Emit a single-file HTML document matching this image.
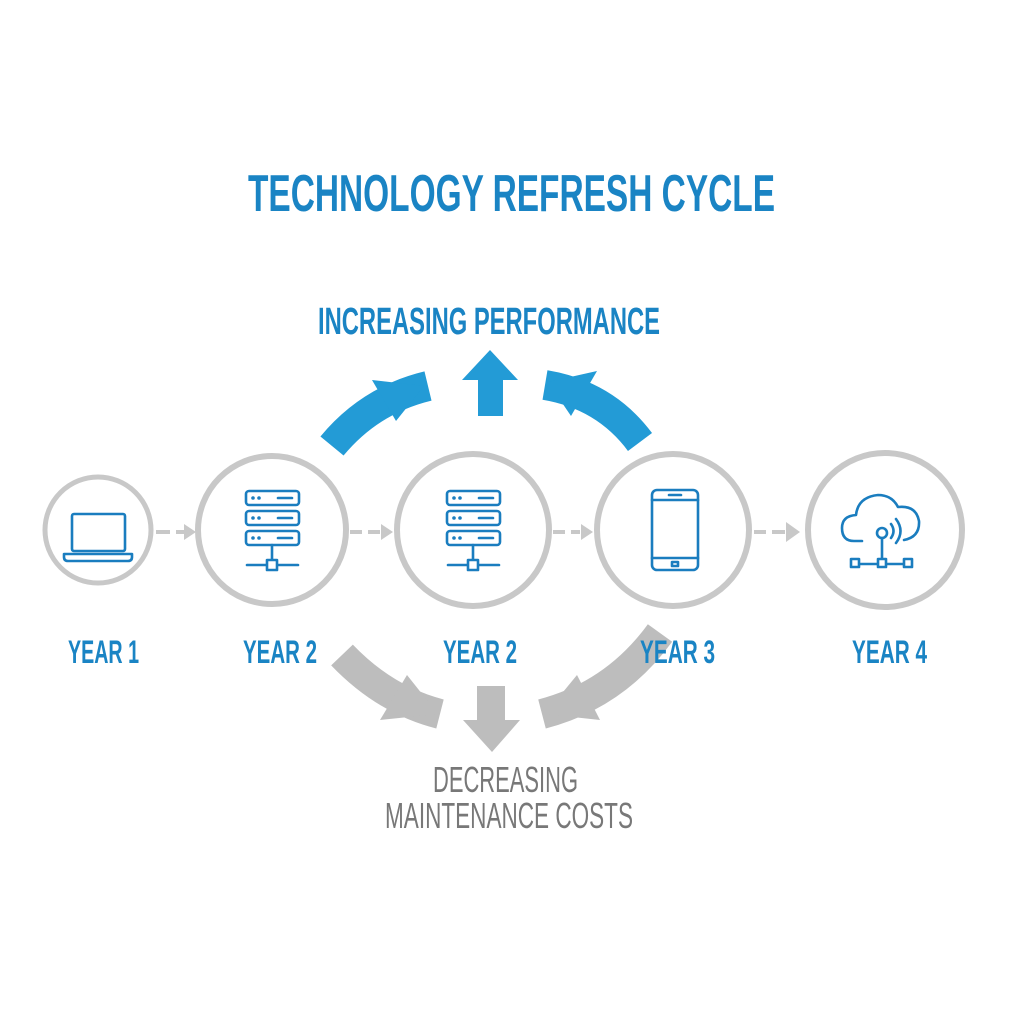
<!DOCTYPE html>
<html><head><meta charset="utf-8"><style>
html,body{margin:0;padding:0;background:#fff}
svg{display:block}
.t{font-family:"Liberation Sans Narrow","Liberation Sans",sans-serif;font-weight:bold}
</style></head><body>
<svg width="1024" height="1024" viewBox="0 0 1024 1024" xmlns="http://www.w3.org/2000/svg">
<rect width="1024" height="1024" fill="#fff"/>
<text class="t" x="248" y="211" font-size="52" fill="#1a84c4" textLength="527" lengthAdjust="spacingAndGlyphs">TECHNOLOGY REFRESH CYCLE</text>
<text class="t" x="318" y="334" font-size="38" fill="#1a84c4" textLength="342" lengthAdjust="spacingAndGlyphs">INCREASING PERFORMANCE</text>

<!-- blue arrows -->
<g fill="#239bd6" stroke="none">
<path d="M332,446 Q370,400 428,386" fill="none" stroke="#239bd6" stroke-width="30"/>
<polygon points="372,380 396,421 424,386"/>
<polygon points="478,416 503,416 503,380 518,380 490,350 462,380 478,380"/>
<path d="M640,442 Q605,395 545,385" fill="none" stroke="#239bd6" stroke-width="30"/>
<polygon points="597,371 571,416 548,382"/>
</g>

<!-- grey arrows -->
<g fill="#bdbdbd">
<path d="M342,655 Q385,700 440,714" fill="none" stroke="#bdbdbd" stroke-width="30"/>
<polygon points="407,675 380,720 438,714"/>
<polygon points="477,686 505,686 505,720 520,720 492,752 463,720 477,720"/>
<path d="M660,633 Q615,695 542,714" fill="none" stroke="#bdbdbd" stroke-width="30"/>
<polygon points="577,675 600,720 545,714"/>
</g>

<!-- circles -->
<g fill="#fff" stroke="#c8c8c8">
<circle cx="98" cy="530" r="53" stroke-width="5"/>
<circle cx="272" cy="530" r="74" stroke-width="6"/>
<circle cx="473" cy="530" r="76" stroke-width="6"/>
<circle cx="673" cy="530" r="76" stroke-width="6"/>
<circle cx="885" cy="530" r="77" stroke-width="6"/>
</g>

<!-- dashed connectors -->
<g stroke="#c8c8c8" stroke-width="4" fill="none">
<line x1="156" y1="532" x2="170" y2="532"/><line x1="176" y1="532" x2="184" y2="532"/>
<line x1="350" y1="532" x2="362" y2="532"/><line x1="368" y1="532" x2="380" y2="532"/>
<line x1="553" y1="532" x2="565" y2="532"/><line x1="571" y1="532" x2="580" y2="532"/>
<line x1="754" y1="532" x2="766" y2="532"/><line x1="772" y1="532" x2="785" y2="532"/>
</g>
<g fill="#c8c8c8">
<polygon points="184,524 196,532 184,540"/>
<polygon points="381,524 393,532 381,540"/>
<polygon points="581,524 593,532 581,540"/>
<polygon points="786,522 800,532 786,542"/>
</g>

<!-- icons -->
<g fill="none" stroke="#1a7dbf" stroke-width="2.6" stroke-linejoin="round" stroke-linecap="round">
<!-- laptop -->
<rect x="72" y="514" width="53" height="37" rx="2"/>
<path d="M64,554 h68 v3 q0,4 -4,4 h-60 q-4,0 -4,-4 z"/>
<!-- server 1 -->
<g id="srv">
<rect x="246" y="491" width="53" height="14" rx="3"/>
<rect x="246" y="511" width="53" height="14" rx="3"/>
<rect x="246" y="531" width="53" height="14" rx="3"/>
<line x1="272" y1="545" x2="272" y2="560"/>
<line x1="247" y1="565" x2="298" y2="565"/>
<rect x="267" y="560" width="10" height="10" fill="#fff"/>
<line x1="278" y1="498" x2="292" y2="498"/><line x1="278" y1="518" x2="292" y2="518"/><line x1="278" y1="538" x2="292" y2="538"/>
</g>
<g transform="translate(201,0)">
<rect x="246" y="491" width="53" height="14" rx="3"/>
<rect x="246" y="511" width="53" height="14" rx="3"/>
<rect x="246" y="531" width="53" height="14" rx="3"/>
<line x1="272" y1="545" x2="272" y2="560"/>
<line x1="247" y1="565" x2="298" y2="565"/>
<rect x="267" y="560" width="10" height="10" fill="#fff"/>
<line x1="278" y1="498" x2="292" y2="498"/><line x1="278" y1="518" x2="292" y2="518"/><line x1="278" y1="538" x2="292" y2="538"/>
</g>
<!-- phone -->
<rect x="652" y="490" width="46" height="80" rx="5"/>
<line x1="652" y1="500" x2="698" y2="500"/>
<line x1="652" y1="558" x2="698" y2="558"/>
<line x1="669" y1="495" x2="681" y2="495"/>
<rect x="672" y="562" width="6" height="4"/>
<!-- cloud -->
<path d="M862,541 h-8 q-12,0 -12,-13 q0,-12 14,-13 q2,-18 22,-20 q14,0 20,12 q18,-2 21,14 q1,16 -15,19"/>
<circle cx="882" cy="533" r="5"/>
<path d="M891,524 q5,7 0,14"/><path d="M896,519 q9,12 0,24"/>
<line x1="882" y1="538" x2="882" y2="560"/>
<line x1="858" y1="564" x2="906" y2="564"/>
<rect x="851" y="559" width="8" height="8" fill="#fff"/>
<rect x="878" y="559" width="8" height="8" fill="#fff"/>
<rect x="904" y="559" width="8" height="8" fill="#fff"/>
</g>
<g fill="#1a7dbf">
<circle cx="253" cy="498" r="1.8"/><circle cx="259" cy="498" r="1.8"/>
<circle cx="253" cy="518" r="1.8"/><circle cx="259" cy="518" r="1.8"/>
<circle cx="253" cy="538" r="1.8"/><circle cx="259" cy="538" r="1.8"/>
<circle cx="454" cy="498" r="1.8"/><circle cx="460" cy="498" r="1.8"/>
<circle cx="454" cy="518" r="1.8"/><circle cx="460" cy="518" r="1.8"/>
<circle cx="454" cy="538" r="1.8"/><circle cx="460" cy="538" r="1.8"/>
</g>

<!-- year labels -->
<g class="t" font-size="32" fill="#1a84c4">
<text x="68" y="663" textLength="71" lengthAdjust="spacingAndGlyphs">YEAR 1</text>
<text x="243" y="663" textLength="74" lengthAdjust="spacingAndGlyphs">YEAR 2</text>
<text x="443" y="663" textLength="74" lengthAdjust="spacingAndGlyphs">YEAR 2</text>
<text x="640" y="663" textLength="75" lengthAdjust="spacingAndGlyphs">YEAR 3</text>
<text x="852" y="663" textLength="75" lengthAdjust="spacingAndGlyphs">YEAR 4</text>
</g>

<g class="t" font-size="36" fill="#787878" font-weight="normal">
<text x="433" y="792" textLength="145" lengthAdjust="spacingAndGlyphs" style="font-weight:normal">DECREASING</text>
<text x="385" y="828" textLength="248" lengthAdjust="spacingAndGlyphs" style="font-weight:normal">MAINTENANCE COSTS</text>
</g>
</svg>
</body></html>
